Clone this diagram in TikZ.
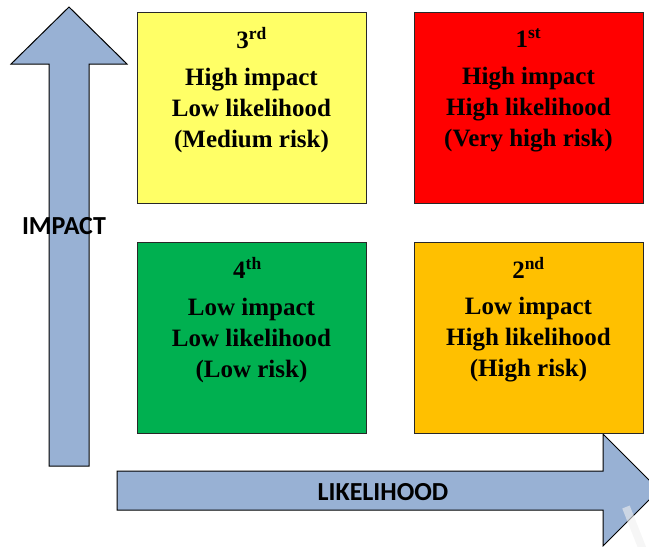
\documentclass[tikz,border=0pt]{standalone}
\usepackage{fontspec}
\setmainfont{Liberation Serif}
\newfontfamily\labelfont{Carlito}
\usetikzlibrary{calc}

\definecolor{arrowblue}{RGB}{152,177,212}
\definecolor{riskyellow}{RGB}{255,255,102}
\definecolor{riskred}{RGB}{255,0,0}
\definecolor{riskgreen}{RGB}{0,176,80}
\definecolor{riskorange}{RGB}{255,192,0}
\definecolor{boxedge}{RGB}{40,40,40}

\begin{document}
\begin{tikzpicture}[x=1pt,y=-1pt,
  cell/.style={draw=boxedge,line width=0.9pt,minimum width=229pt,minimum height=191pt,
    inner sep=0pt,outer sep=0pt},
  rank/.style={font=\bfseries\fontsize{25}{30}\selectfont,inner sep=0pt},
  verdict/.style={font=\bfseries\fontsize{25}{31}\selectfont,align=center,inner sep=0pt},
  axisarrow/.style={fill=arrowblue,draw=black,line width=1pt,line join=miter},
  axislabel/.style={font=\labelfont\bfseries\fontsize{26}{30}\selectfont,inner sep=0pt}]
\useasboundingbox (0,0) rectangle (649,547);
\clip (0,0) rectangle (649,547);

% axis arrows
\draw[axisarrow] (49,466) -- (49,64) -- (11,64) -- (69,7) -- (127,64) -- (89,64) -- (89,466) -- cycle;
\draw[axisarrow] (117,471) -- (603,471) -- (603,434) -- (659,490) -- (603,546) -- (603,510) -- (117,510) -- cycle;

% risk cells
\node[cell,fill=riskyellow,anchor=north west] (c3) at (137,12) {};
\node[cell,fill=riskred,anchor=north west] (c1) at (414,12) {};
\node[cell,fill=riskgreen,anchor=north west] (c4) at (137,242) {};
\node[cell,fill=riskorange,anchor=north west] (c2) at (414,242) {};

\node[rank] (r3) at ($(c3.north)+(0,26)$) {3\textsuperscript{rd}};
\node[verdict] (t3) at ($(c3.north)+(0,98)$) {High impact\\Low likelihood\\(Medium risk)};

\node[rank] (r1) at ($(c1.north)+(0,26)$) {1\textsuperscript{st}};
\node[verdict] (t1) at ($(c1.north)+(0,98)$) {High impact\\High likelihood\\(Very high risk)};

\node[rank] (r4) at ($(c4.north)+(-4,26)$) {4\textsuperscript{th}};
\node[verdict] (t4) at ($(c4.north)+(0,98)$) {Low impact\\Low likelihood\\(Low risk)};

\node[rank] (r2) at ($(c2.north)+(0,26)$) {2\textsuperscript{nd}};
\node[verdict] (t2) at ($(c2.north)+(0,98)$) {Low impact\\High likelihood\\(High risk)};

% axis labels
\node[axislabel] (impact) at (64,226) {IMPACT};
\node[axislabel] (likelihood) at (383,492) {LIKELIHOOD};

% faint stroke at the lower right
\draw[gray!12,opacity=0.6,line width=8pt] (626,507) -- (643,550);
\end{tikzpicture}
\end{document}
